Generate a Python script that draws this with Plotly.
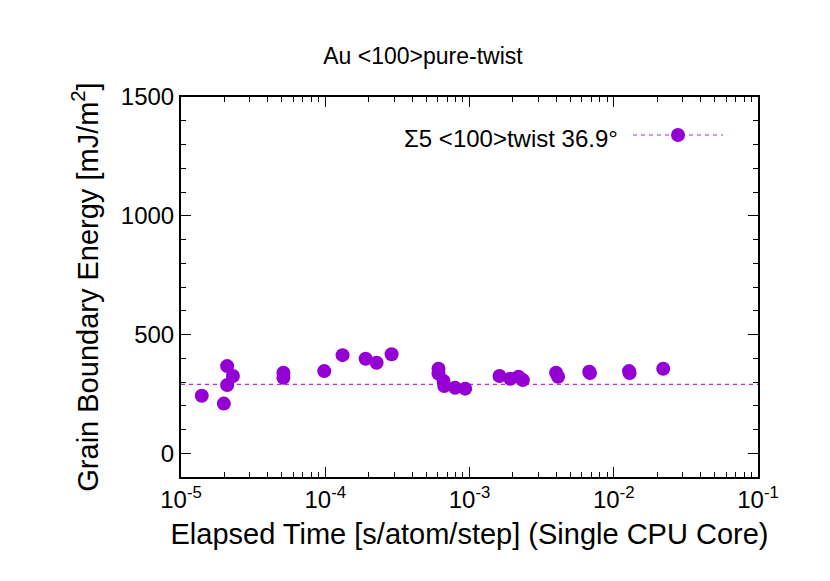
import plotly.graph_objects as go
import numpy as np

log_time = [-4.856, -4.703, -4.68, -4.64, -4.68, -4.29, -4.29, -4.007, -3.88, -3.72, -3.644, -3.54,
            -3.215, -3.215, -3.18, -3.175, -3.10, -3.03, -2.792, -2.717, -2.66, -2.63, -2.40, -2.386,
            -2.17, -2.165, -1.894, -1.89, -1.657]
energy = [242, 209, 367, 325, 287, 339, 318, 346, 413, 398, 381, 417,
          356, 336, 304, 283, 276, 272, 325, 314, 322, 308, 339, 322,
          343, 338, 346, 338, 356]
ref_energy = 290
x_tickvals = [1e-5, 1e-4, 1e-3, 1e-2, 1e-1]
x_ticktext = ["10<sup>-5</sup>", "10<sup>-4</sup>", "10<sup>-3</sup>", "10<sup>-2</sup>", "10<sup>-1</sup>"]
label = "Σ5 <100>twist 36.9°"

purple = "#9400D3"
time = [10 ** v for v in log_time]
x_minor = [m * 10.0 ** e for e in range(-5, -1) for m in range(2, 10)]

fig = go.Figure()
fig.add_trace(go.Scatter(x=[1e-5, 1e-1], y=[ref_energy, ref_energy], mode="lines",
                         line=dict(color="#a030e0", width=1.2, dash="4px,4px"), showlegend=False))
fig.add_trace(go.Scatter(x=time, y=energy, mode="markers",
                         marker=dict(color=purple, size=14), showlegend=False))

L, T, W, H = 173, 89, 577, 380
fig.update_layout(
    width=830, height=581, plot_bgcolor="white", paper_bgcolor="white",
    margin=dict(l=L, r=830 - L - W, t=T, b=581 - T - H),
    font=dict(family="Liberation Sans, Arial, sans-serif", size=24, color="black"),
    title=dict(text="Au <100>pure-twist", x=0.5, xanchor="center", y=1 - 48 / 581, yanchor="middle",
               font=dict(size=23)),
    xaxis=dict(type="log", range=[-5, -1], tickvals=x_tickvals, ticktext=x_ticktext,
               ticks="inside", ticklen=10, tickwidth=1, tickcolor="black",
               showline=True, linecolor="black", linewidth=2, mirror="ticks", showgrid=False,
               minor=dict(ticks="inside", ticklen=5, tickcolor="black", tickvals=x_minor, showgrid=False),
               title=dict(text="Elapsed Time [s/atom/step] (Single CPU Core)", standoff=12)),
    yaxis=dict(range=[-100, 1500], tickvals=[0, 500, 1000, 1500],
               ticks="inside", ticklen=10, tickwidth=1, tickcolor="black",
               showline=True, linecolor="black", linewidth=2, mirror="ticks", showgrid=False,
               zeroline=False, minor=dict(ticks="inside", ticklen=5, tickcolor="black", dtick=100, showgrid=False),
               title=dict(text="Grain Boundary Energy [mJ/m<sup>2</sup>]", standoff=14)),
)
fig.add_annotation(xref="paper", yref="paper", x=(612 - L) / W, y=(T + H - 130) / H,
                   text=label, showarrow=False, xanchor="right", yanchor="middle", font=dict(size=24))
lx0, lx1, ly = (625 - L) / W, (715 - L) / W, (T + H - 127) / H
fig.add_shape(type="line", xref="paper", yref="paper", x0=lx0, x1=lx1, y0=ly, y1=ly,
              line=dict(color="#a030e0", width=1.2, dash="4px,4px"))
fig.add_shape(type="circle", xref="paper", yref="paper",
              x0=(670 - 7 - L) / W, x1=(670 + 7 - L) / W,
              y0=ly - 7 / H, y1=ly + 7 / H, fillcolor=purple, line=dict(color=purple, width=0))
fig.write_html("out.html")
